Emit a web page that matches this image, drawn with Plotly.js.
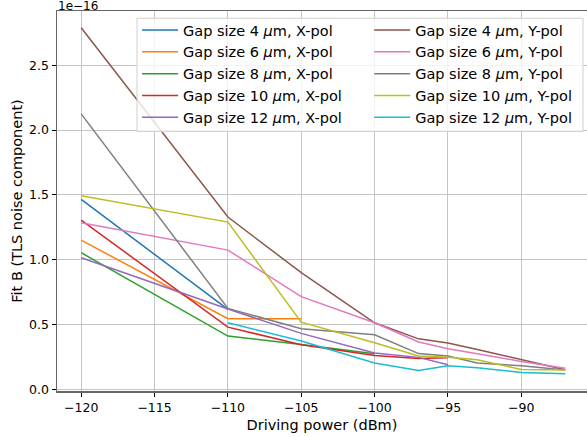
<!DOCTYPE html>
<html>
<head>
<meta charset="utf-8">
<script src="https://cdn.plot.ly/plotly-3.0.1.min.js"></script>
<style>html,body{margin:0;padding:0;background:#fff;}#chart{width:587px;height:437px;}</style>
</head>
<body>
<div id="chart"></div>
<script>
// Driving power (dBm)
const power = [-120, -110, -105, -100, -97, -95, -93, -90, -87];
// Fit B values in units of 1e-16
const gap4X  = [1.465, 0.617, null, null, null, null, null, null, null];
const gap6X  = [1.151, 0.545, 0.545, null, null, null, null, null, null];
const gap8X  = [1.054, 0.411, 0.347, 0.275, null, null, null, null, null];
const gap10X = [1.305, 0.480, 0.345, 0.262, 0.239, 0.244, null, null, null];
const gap12X = [1.015, 0.620, 0.432, 0.280, 0.247, 0.190, null, null, null];
const gap4Y  = [2.789, 1.329, 0.900, 0.514, 0.390, 0.358, 0.308, 0.231, 0.152];
const gap6Y  = [1.285, 1.074, 0.715, 0.514, 0.366, 0.314, 0.275, 0.216, 0.164];
const gap8Y  = [2.125, 0.625, 0.468, 0.421, 0.276, 0.257, 0.203, 0.183, 0.150];
const gap10Y = [1.493, 1.290, 0.519, 0.360, 0.257, 0.248, 0.228, 0.154, 0.149];
const gap12Y = [null, 0.514, 0.373, 0.203, 0.146, 0.183, 0.167, 0.131, 0.121];

const seriesNames = [
  'Gap size 4 <i>μ</i>m, X-pol', 'Gap size 6 <i>μ</i>m, X-pol', 'Gap size 8 <i>μ</i>m, X-pol',
  'Gap size 10 <i>μ</i>m, X-pol', 'Gap size 12 <i>μ</i>m, X-pol',
  'Gap size 4 <i>μ</i>m, Y-pol', 'Gap size 6 <i>μ</i>m, Y-pol', 'Gap size 8 <i>μ</i>m, Y-pol',
  'Gap size 10 <i>μ</i>m, Y-pol', 'Gap size 12 <i>μ</i>m, Y-pol'
];
const seriesValues = [gap4X, gap6X, gap8X, gap10X, gap12X, gap4Y, gap6Y, gap8Y, gap10Y, gap12Y];
const colors = ['#1f77b4','#ff7f0e','#2ca02c','#d62728','#9467bd','#8c564b','#e377c2','#7f7f7f','#bcbd22','#17becf'];

const traces = seriesValues.map((vals, i) => ({
  type: 'scatter', mode: 'lines', x: power, y: vals, name: seriesNames[i],
  line: {color: colors[i], width: 1.5},
  legend: i < 5 ? 'legend' : 'legend2',
  connectgaps: false, hoverinfo: 'skip'
}));

const FAM = 'DejaVu Sans, sans-serif';
const labelFont = {family: FAM, size: 14.5, color: '#000'};
const tickFont = {family: FAM, size: 12.5, color: '#000'};

const legendCommon = {
  orientation: 'v', yanchor: 'top', y: 0.992, xanchor: 'left',
  bgcolor: 'rgba(0,0,0,0)', borderwidth: 0, font: labelFont,
  traceorder: 'normal', itemwidth: 36
};

const layout = {
  width: 587, height: 437,
  margin: {l: 57, r: 0, t: 11, b: 46},
  paper_bgcolor: '#fff', plot_bgcolor: '#fff',
  font: labelFont,
  showlegend: true,
  legend: Object.assign({}, legendCommon, {x: 0.151}),
  legend2: Object.assign({}, legendCommon, {x: 0.589}),
  shapes: [{
    type: 'rect', xref: 'paper', yref: 'paper', x0: 0.151, x1: 0.9925, y0: 0.683, y1: 0.981,
    fillcolor: 'rgba(255,255,255,0.8)', line: {color: '#d0d0d0', width: 1}, layer: 'above'
  }],
  xaxis: {
    range: [-121.65, -85.52], tickmode: 'linear', tick0: -120, dtick: 5,
    showgrid: true, gridcolor: '#c4c4c4', gridwidth: 1, zeroline: false,
    showline: true, linecolor: '#666', linewidth: 1.5, mirror: true,
    ticks: 'outside', ticklen: 4, tickcolor: '#000', tickwidth: 1,
    tickfont: tickFont,
    title: {text: 'Driving power (dBm)', font: labelFont, standoff: 6}
  },
  yaxis: {
    range: [-0.0123, 2.918], tickmode: 'linear', tick0: 0, dtick: 0.5, tickformat: '.1f',
    showgrid: true, gridcolor: '#c4c4c4', gridwidth: 1, zeroline: false,
    showline: true, linecolor: '#666', linewidth: 1.5, mirror: true,
    ticks: 'outside', ticklen: 4, tickcolor: '#000', tickwidth: 1,
    tickfont: tickFont,
    title: {text: 'Fit B (TLS noise component)', font: labelFont, standoff: 3}
  },
  annotations: [{
    text: '1e−16', xref: 'paper', yref: 'paper', x: 0, y: 1, xanchor: 'left', yanchor: 'middle',
    showarrow: false, font: {family: FAM, size: 12, color: '#000'}, yshift: 5, borderpad: 0
  }]
};

Plotly.newPlot('chart', traces, layout, {displayModeBar: false, staticPlot: true});
</script>
</body>
</html>
